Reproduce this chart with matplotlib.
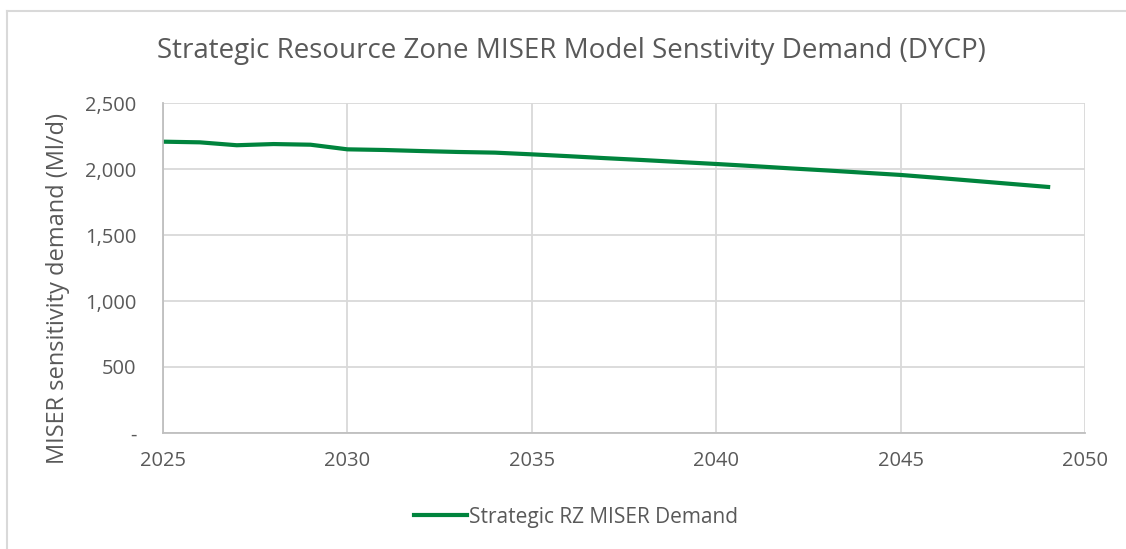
import matplotlib.pyplot as plt
from matplotlib.ticker import FuncFormatter
from matplotlib.lines import Line2D

plt.rcParams['font.family'] = ['Open Sans', 'DejaVu Sans']

years = list(range(2025, 2050))
demand = [2207, 2202, 2180, 2189, 2184, 2149, 2144, 2136, 2129, 2124,
          2111, 2097, 2082, 2068, 2053, 2038, 2022, 2005, 1989, 1972,
          1955, 1933, 1910, 1887, 1864]
yticks = [0, 500, 1000, 1500, 2000, 2500]
xticks = [2025, 2030, 2035, 2040, 2045, 2050]

W, H = 1126, 549
grey = '#595959'
fig = plt.figure(figsize=(W / 100, H / 100), dpi=100)
ax = fig.add_axes([163 / W, 1 - 433 / H, (1085 - 163) / W, (433 - 103) / H])

ax.plot(years, demand, color='#00843d', linewidth=3.0, label='Strategic RZ MISER Demand')

ax.set_xlim(2025, 2050)
ax.set_ylim(0, 2500)
ax.set_xticks(xticks)
ax.set_yticks(yticks)
ax.yaxis.set_major_formatter(FuncFormatter(lambda v, p: '-' if v == 0 else f'{v:,.0f}'))
ax.grid(True, color='#d9d9d9', linewidth=1.3)
ax.set_axisbelow(True)
for s in ['top', 'right']:
    ax.spines[s].set_visible(False)
for s in ['left', 'bottom']:
    ax.spines[s].set_color('#bfbfbf')
    ax.spines[s].set_linewidth(1.3)
ax.tick_params(length=0, labelsize=14.5, colors=grey)
ax.tick_params(axis='y', pad=19)
ax.tick_params(axis='x', pad=13)

# axis title
fig.text(58 / W, 1 - 288 / H, 'MISER sensitivity demand (Ml/d)', rotation=90,
         ha='center', va='center', fontsize=17, color=grey)

fig.text(571 / W, 1 - 51 / H, 'Strategic Resource Zone MISER Model Senstivity Demand (DYCP)',
         ha='center', va='center', fontsize=20, color=grey)

leg = fig.legend(loc='center', bbox_to_anchor=(576 / W, 1 - 517 / H), frameon=False,
                 fontsize=15, handlelength=2.5, handletextpad=0.1)
for t in leg.get_texts():
    t.set_color(grey)

# chart border (top and left edges visible)
fig.add_artist(Line2D([7 / W, 7 / W], [0, 1 - 11 / H], transform=fig.transFigure,
                      color='#d9d9d9', linewidth=1.5))
fig.add_artist(Line2D([7 / W, 1], [1 - 11 / H, 1 - 11 / H], transform=fig.transFigure,
                      color='#d9d9d9', linewidth=1.5))

fig.savefig('out.png', dpi=100)
